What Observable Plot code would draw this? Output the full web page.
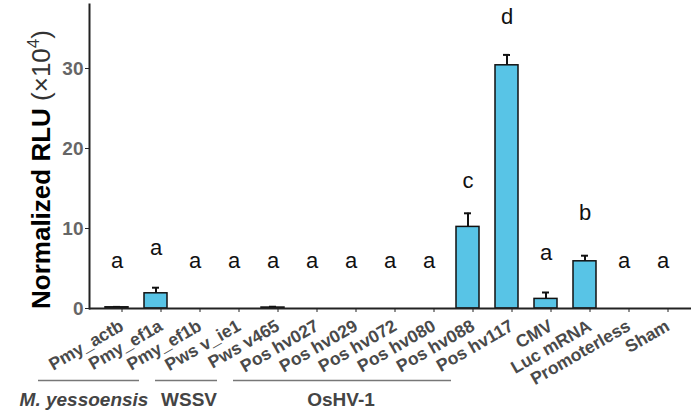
<!DOCTYPE html>
<html><head><meta charset="utf-8">
<script src="https://cdn.jsdelivr.net/npm/d3@7"></script>
<script src="https://cdn.jsdelivr.net/npm/@observablehq/plot@0.6"></script>
<style>
body{margin:0;background:#fff;font-family:Arial,"Liberation Sans",sans-serif}
[aria-label="x-axis tick label"] text{font-size:17.5px;font-weight:bold;fill:#4a4a4a}
[aria-label="y-axis tick label"] text{font-size:19px;font-weight:bold;fill:#666}
[aria-label="y-axis label"] text{font-size:26px;font-weight:bold;fill:#000}
</style>
</head><body><div id="chart"></div>
<script>
const categories = ["Pmy_actb","Pmy_ef1a","Pmy_ef1b","Pws v_ie1","Pws v465","Pos hv027","Pos hv029","Pos hv072","Pos hv080","Pos hv088","Pos hv117","CMV","Luc mRNA","Promoterless","Sham"];
const means  = [0.15,1.9,0,0,0.12,0,0,0,0,10.2,30.4,1.2,5.9,0,0];
const errors = [0.05,0.7,0,0,0.1,0,0,0,0,1.7,1.3,0.8,0.7,0,0];
const letters = ["a","a","a","a","a","a","a","a","a","c","d","a","b","a","a"];
const letterY = [6,7.6,6,6,6,6,6,6,6,16,36.4,6.9,11.9,6,6];
const groupNames = ["M. yessoensis","WSSV","OsHV-1"];
const groupStart = ["Pmy_actb","Pws v_ie1","Pos hv027"];
const groupEnd = ["Pmy_ef1b","Pws v465","Pos hv117"];
const yTicks = [0,10,20,30];

const rows = categories.map((c,i)=>({cat:c, mean:means[i], err:errors[i], letter:letters[i], ly:letterY[i]}));
const errRows = rows.filter(d=>d.err>0);
const gIdx = d3.range(groupNames.length);

const chart = Plot.plot({
  width: 692, height: 410,
  marginTop: 4, marginBottom: 102, marginLeft: 89, marginRight: 1,
  style: {fontFamily: "Arial, 'Liberation Sans', sans-serif", background: "#fff"},
  x: {domain: categories, padding: 0.4},
  y: {domain: [0, 38]},
  marks: [
    Plot.barY(rows, {x: "cat", y: "mean", fill: "#58c4e6", stroke: "#111", strokeWidth: 1.5}),
    Plot.ruleX(errRows, {x: "cat", y1: "mean", y2: d=>d.mean+d.err, stroke: "#111", strokeWidth: 2}),
    Plot.tickY(errRows, {x: "cat", y: d=>d.mean+d.err, stroke: "#111", strokeWidth: 2, insetLeft: 8, insetRight: 8}),
    Plot.text(rows, {x: "cat", y: "ly", text: "letter", fontSize: 22, fill: "#111"}),
    Plot.ruleY([0], {stroke: "#222", strokeWidth: 2}),
    Plot.frame({anchor: "left", stroke: "#222", strokeWidth: 2}),
    Plot.axisX({tickRotate: -30, tickSize: 4, tickPadding: 12, dx: 5, label: null, stroke: "#222"}),
    Plot.axisY({ticks: yTicks, tickSize: 4, tickPadding: 2, label: "Normalized RLU (×10⁴)", labelAnchor: "center", labelOffset: 58, stroke: "#222"}),
    Plot.ruleY(gIdx, {y: () => 0, x1: i => groupStart[i], x2: i => groupEnd[i], dy: 72, dx: -67, stroke: "#777", strokeWidth: 1.5}),
    Plot.text([0], {x: () => "Pmy_ef1a", text: () => groupNames[0], frameAnchor: "bottom", dy: 97, dx: -72, fontSize: 19, fontWeight: "bold", fontStyle: "italic", fill: "#444"}),
    Plot.text([1], {x: () => "Pws v_ie1", text: () => groupNames[1], frameAnchor: "bottom", dy: 97, dx: -45, fontSize: 19, fontWeight: "bold", fill: "#444"}),
    Plot.text([2], {x: () => "Pos hv072", text: () => groupNames[2], frameAnchor: "bottom", dy: 97, dx: -49, fontSize: 19, fontWeight: "bold", fill: "#444"})
  ]
});
document.getElementById("chart").appendChild(chart);

const labG = d3.select(chart).select('[aria-label="y-axis label"]');
const oldT = labG.attr("transform") || "";
labG.attr("transform", "translate(0,13) " + oldT);
const lab = labG.select("text");
if (!lab.empty()) {
  lab.text(null);
  lab.append("tspan").attr("font-weight","bold").text("Normalized RLU ");
  lab.append("tspan").attr("font-weight","normal").attr("fill","#333").text("(×10");
  lab.append("tspan").attr("font-weight","normal").attr("fill","#333").attr("font-size","17px").attr("dy","-11").text("4");
  lab.append("tspan").attr("font-weight","normal").attr("fill","#333").attr("dy","11").text(")");
}
</script>
</body></html>
